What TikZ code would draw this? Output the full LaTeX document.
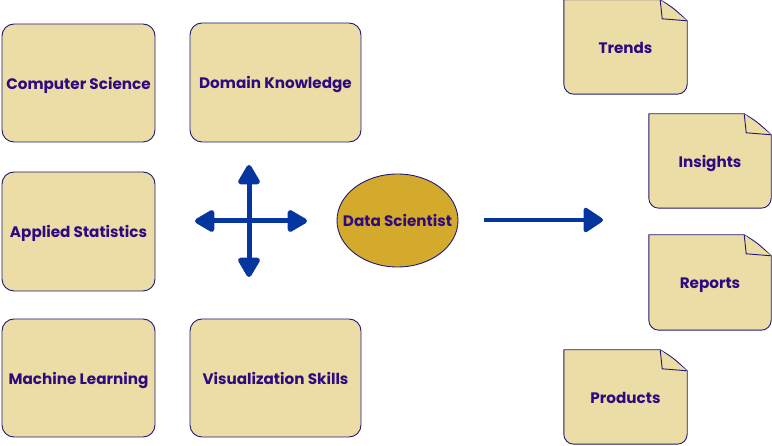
\documentclass[tikz,border=0pt]{standalone}
\usepackage{fontspec}
\setmainfont{Poppins}
\usetikzlibrary{arrows.meta,shapes.geometric}
\definecolor{boxfill}{HTML}{ECDCA6}
\definecolor{boxline}{HTML}{1F1A7A}
\definecolor{txt}{HTML}{2E0A80}
\definecolor{ellfill}{HTML}{D4AA2C}
\definecolor{arrowc}{HTML}{0536A0}
\tikzset{
  lbl/.style={text=txt, font=\fontsize{15.2}{18}\selectfont\bfseries},
  skill/.style={lbl, draw=boxline, fill=boxfill, line width=0.9pt, rounded corners=12pt, inner sep=0pt},
  docnode/.style={lbl, inner sep=0pt},
  txtbox/.style={lbl, inner sep=0pt, text height=15pt, text depth=2pt},
  docline/.style={draw=boxline, fill=boxfill, line width=0.9pt, line join=round},
  core/.style={ellipse, draw=boxline, fill=ellfill, line width=0.9pt, inner sep=0pt},
  bigarrow/.style={draw=arrowc, line width=5pt, -{Triangle[length=22pt,width=24pt,round]}},
}
\newcommand\docshape[1]{%
  \filldraw[docline] (#1.north west) -- ([xshift=-27pt]#1.north east)
    .. controls ([xshift=-14pt,yshift=-8pt]#1.north east) .. ([yshift=-21pt]#1.north east)
    -- ([yshift=10pt]#1.south east) arc[start angle=0,end angle=-90,radius=10pt]
    -- ([xshift=10pt]#1.south west) arc[start angle=270,end angle=180,radius=10pt] -- cycle;
  \draw[docline] ([xshift=-27pt]#1.north east) -- ([xshift=-25pt,yshift=-19pt]#1.north east) -- ([yshift=-21pt]#1.north east);
}
\begin{document}
\begin{tikzpicture}[x=1pt,y=-1pt]
\useasboundingbox (0,0) rectangle (772,446);
% skill boxes
\node[skill, text height=15pt, text depth=2pt, minimum width=153pt, minimum height=118pt] (cs) at (78.5,83) {Computer Science};
\node[skill, text height=15pt, text depth=2pt, minimum width=171pt, minimum height=119pt] (dk) at (275.5,82.5) {Domain Knowledge};
\node[skill, text height=15pt, text depth=2pt, minimum width=153pt, minimum height=119pt] (as) at (78.5,231.5) {Applied Statistics};
\node[skill, text height=15pt, text depth=2pt, minimum width=153pt, minimum height=118pt] (ml) at (78.5,378) {Machine Learning};
\node[skill, text height=15pt, text depth=2pt, minimum width=171pt, minimum height=118pt] (vs) at (275.5,378) {Visualization Skills};
% cross
\coordinate (cc) at (249,221);
\coordinate (cl) at (195,221);
\coordinate (cr) at (307,221);
\coordinate (ct) at (249,165);
\coordinate (cb) at (249,277);
\draw[bigarrow] (cc) -- (cl);
\draw[bigarrow] (cc) -- (cr);
\draw[bigarrow] (cc) -- (ct);
\draw[bigarrow] (cc) -- (cb);
% core
\node[core, minimum width=121pt, minimum height=93pt] (ds) at (397.5,220.5) {};
\node[txtbox] (dslabel) at (ds) {Data Scientist};
% output arrow
\coordinate (oa) at (484,220);
\coordinate (ob) at (603,220);
\draw[draw=arrowc, line width=4pt, -{Triangle[length=21pt,width=27pt,round]}] (oa) -- (ob);
% documents
\node[docnode, minimum width=123pt, minimum height=94pt] (tr) at (625.5,47) {};
\node[docnode, minimum width=122pt, minimum height=94pt] (in) at (710,161) {};
\node[docnode, minimum width=122pt, minimum height=95pt] (re) at (710,282.5) {};
\node[docnode, minimum width=123pt, minimum height=94pt] (pr) at (625.5,397) {};
\docshape{tr}\docshape{in}\docshape{re}\docshape{pr}
\node[txtbox] (trl) at (tr) {Trends};
\node[txtbox] (inl) at (in) {Insights};
\node[txtbox] (rel) at (re) {Reports};
\node[txtbox] (prl) at (pr) {Products};
\end{tikzpicture}
\end{document}
